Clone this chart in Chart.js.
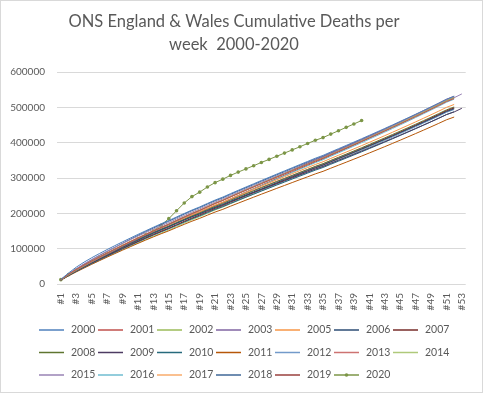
<!DOCTYPE html>
<html>
<head>
<meta charset="utf-8">
<script src="https://cdn.jsdelivr.net/npm/chart.js@4.4.1/dist/chart.umd.min.js"></script>
<style>
  body { margin: 0; background: #fff; }
  canvas { display: block; }
</style>
</head>
<body>
<canvas id="myChart" width="483" height="393"></canvas>
<script>
const weekLabels = ["#1","#2","#3","#4","#5","#6","#7","#8","#9","#10","#11","#12","#13","#14","#15","#16","#17","#18","#19","#20","#21","#22","#23","#24","#25","#26","#27","#28","#29","#30","#31","#32","#33","#34","#35","#36","#37","#38","#39","#40","#41","#42","#43","#44","#45","#46","#47","#48","#49","#50","#51","#52","#53"];

const years = ["2000","2001","2002","2003","2005","2006","2007","2008","2009","2010","2011","2012","2013","2014","2015","2016","2017","2018","2019","2020"];

const yearColors = ["#4f81bd","#c0504d","#9bbb59","#8064a2","#f79646","#2c4d75","#772c2a","#5f7530","#4d3b62","#276a7c","#b65708","#729aca","#cd7371","#afc97a","#9983b5","#6fbdd1","#f9ab6b","#3f6797","#9a403e","#7c9647"];

// weekly deaths registered, thousands
const w2000 = [13.2,17.9,16.5,14.1,12.6,11.8,11.4,11.0,10.8,10.6,10.4,10.2,10.1,9.8,9.2,10.1,9.9,9.6,8.9,9.8,9.6,8.5,9.7,9.4,9.3,9.2,9.2,9.1,9.1,9.0,9.0,9.0,8.9,9.0,8.1,9.6,9.3,9.3,9.4,9.5,9.6,9.7,9.8,9.9,10.0,10.1,10.2,10.3,10.4,10.6,10.9,8.6];
const w2001 = [12.4,15.2,13.6,12.5,11.8,11.3,11.0,10.8,10.7,10.5,10.4,10.2,10.1,9.6,9.4,10.2,10.0,9.7,9.0,9.9,9.7,8.6,9.8,9.5,9.4,9.3,9.3,9.2,9.2,9.1,9.1,9.1,9.0,9.1,8.2,9.7,9.4,9.4,9.5,9.6,9.7,9.8,9.9,10.0,10.1,10.2,10.3,10.4,10.5,10.7,11.0,8.7];
const w2002 = [12.0,14.6,13.5,12.6,12.1,11.6,11.2,11.0,10.8,10.6,10.4,10.3,10.0,9.7,9.3,10.3,10.0,9.8,9.0,9.9,9.8,8.6,9.9,9.5,9.5,9.3,9.4,9.2,9.3,9.1,9.2,9.1,9.1,9.1,8.3,9.8,9.4,9.5,9.5,9.7,9.7,9.9,9.9,10.1,10.1,10.3,10.3,10.5,10.5,10.8,11.0,8.8];
const w2003 = [11.8,14.4,13.2,12.3,11.7,11.3,11.1,10.9,10.8,10.6,10.5,10.3,10.2,9.8,9.5,10.4,10.1,9.9,9.1,10.0,9.9,8.7,10.0,9.6,9.6,9.4,9.5,9.3,9.4,9.2,9.3,10.2,10.6,9.2,8.4,9.9,9.5,9.6,9.6,9.8,9.8,10.0,10.0,10.2,10.2,10.4,10.4,10.6,10.6,10.9,11.1,8.9];
const w2005 = [11.9,13.9,12.8,12.0,11.6,11.4,11.3,11.2,11.1,10.9,10.6,10.3,10.0,9.5,9.1,9.8,9.6,9.3,8.6,9.5,9.3,8.2,9.4,9.1,9.0,8.9,8.9,8.8,8.8,8.7,8.7,8.7,8.6,8.7,7.8,9.3,9.0,9.0,9.1,9.2,9.3,9.4,9.5,9.6,9.7,9.8,9.9,10.0,10.1,10.3,10.6,8.3];
const w2006 = [11.3,13.4,12.4,11.7,11.3,11.0,10.9,10.8,10.6,10.4,10.2,10.0,9.8,9.4,8.9,9.6,9.4,9.1,8.4,9.3,9.1,8.0,9.2,8.9,8.8,8.7,8.7,8.6,9.0,8.9,8.5,8.5,8.4,8.5,7.6,9.1,8.8,8.8,8.9,9.0,9.1,9.2,9.3,9.4,9.5,9.6,9.7,9.8,9.9,10.1,10.4,8.1];
const w2007 = [11.6,13.6,12.2,11.3,10.9,10.6,10.4,10.3,10.2,10.0,9.8,9.7,9.5,9.2,8.8,9.7,9.7,9.2,8.7,9.4,9.4,8.1,9.5,9.0,9.1,8.8,9.0,8.7,8.9,8.6,8.8,8.6,8.7,8.6,7.9,9.2,9.1,8.9,9.2,9.1,9.4,9.3,9.6,9.5,9.8,9.7,10.0,9.9,10.2,10.2,10.7,8.2];
const w2008 = [11.9,14.1,12.9,11.9,11.4,11.0,10.8,10.6,10.5,10.3,10.2,10.1,9.9,9.5,9.0,9.7,9.5,9.2,8.5,9.4,9.2,8.1,9.3,9.0,8.9,8.8,8.8,8.7,8.7,8.6,8.6,8.6,8.5,8.6,7.7,9.2,8.9,8.9,9.0,9.1,9.2,9.3,9.4,9.5,9.6,9.7,9.8,9.9,10.0,10.2,10.5,8.2];
const w2009 = [11.7,14.3,13.4,12.5,11.9,11.5,11.0,10.6,10.3,10.0,9.7,9.5,9.3,9.0,8.5,9.3,9.2,8.8,8.2,9.1,8.8,7.8,8.9,8.7,8.5,8.5,8.4,8.4,8.3,8.3,8.2,8.3,8.1,8.3,7.3,8.9,8.5,8.6,8.6,8.8,8.8,9.0,9.0,9.2,9.2,9.4,9.4,9.6,9.6,9.9,10.2,7.6,10.4];
const w2010 = [11.1,12.9,11.9,11.2,10.9,10.6,10.5,10.3,10.2,10.0,9.8,9.7,9.5,9.1,8.7,9.5,9.4,9.0,8.4,9.2,9.1,7.9,9.2,8.8,8.8,8.6,8.7,8.5,8.6,8.4,8.5,8.4,8.4,8.4,7.6,9.0,8.8,8.7,8.9,8.9,9.1,9.1,9.3,9.3,9.5,9.5,9.7,9.7,9.9,10.0,10.4,8.0];
const w2011 = [10.4,12.5,11.4,10.8,10.6,10.3,10.1,9.9,9.8,9.7,9.5,9.3,9.1,8.8,8.3,9.3,9.1,8.8,8.1,9.0,8.8,7.7,8.9,8.6,8.5,8.4,8.4,8.3,8.3,8.2,8.2,8.2,8.1,8.2,7.3,8.8,8.5,8.5,8.6,8.7,8.8,8.9,9.0,9.1,9.2,9.3,9.4,9.5,9.6,9.8,10.1,7.8];
const w2012 = [11.0,12.7,11.6,10.9,10.6,10.4,10.4,10.5,10.6,10.4,10.1,9.8,9.6,9.3,8.9,9.8,9.4,9.3,8.4,9.5,9.1,7.9,9.0,9.1,8.8,8.9,8.7,8.8,8.6,8.7,8.5,8.7,8.4,8.7,7.7,9.3,8.9,9.0,9.0,9.2,9.2,9.4,9.4,9.6,9.6,9.8,9.8,10.0,10.0,10.2,10.5,8.0];
const w2013 = [11.6,13.8,12.6,12.0,11.5,11.2,11.0,10.9,10.9,10.8,10.7,10.6,10.5,10.0,9.5,9.5,9.3,9.0,8.3,9.2,9.0,7.9,9.1,8.8,8.7,8.6,8.6,8.5,8.5,8.4,8.4,8.4,8.3,8.4,7.5,9.0,8.7,8.7,8.8,8.9,9.0,9.1,9.2,9.3,9.4,9.5,9.6,9.7,9.8,10.0,10.3,8.0];
const w2014 = [11.4,13.1,11.6,10.8,10.5,10.2,10.0,9.9,9.8,9.6,9.5,9.4,9.3,9.0,8.6,9.9,9.7,9.4,8.7,9.6,9.4,8.3,9.5,9.2,9.1,9.0,9.0,8.9,8.9,8.8,8.8,8.8,8.7,8.8,7.9,9.4,9.1,9.1,9.2,9.3,9.4,9.5,9.6,9.7,9.8,9.9,10.0,10.1,10.2,10.4,10.7,8.4];
const w2015 = [12.1,16.2,14.9,13.6,12.6,12.0,11.5,11.1,10.8,10.5,10.2,10.0,9.8,9.5,9.0,10.1,10.0,9.6,9.0,9.8,9.7,8.5,9.8,9.4,9.4,9.2,9.3,9.1,9.2,9.0,9.1,9.0,9.0,9.0,8.2,9.6,9.4,9.3,9.5,9.5,9.7,9.7,9.9,9.9,10.1,10.1,10.3,10.3,10.5,10.6,11.0,8.6,10.8];
const w2016 = [11.6,13.4,12.0,11.3,11.1,10.9,10.7,10.6,10.6,10.5,10.3,10.2,10.0,9.7,9.3,10.3,10.2,9.8,9.2,10.1,9.8,8.8,9.9,9.7,9.5,9.5,9.4,9.4,9.3,9.3,9.2,9.3,9.1,9.3,8.3,9.9,9.6,9.5,9.7,9.7,9.9,9.9,10.1,10.1,10.3,10.3,10.5,10.5,10.7,10.8,11.2,8.8];
const w2017 = [12.3,15.0,13.8,12.6,12.0,11.6,11.3,11.0,10.7,10.4,10.2,10.0,9.8,9.5,9.0,10.5,10.0,9.9,9.0,10.1,9.9,8.6,10.0,9.7,9.6,9.4,9.4,9.4,9.3,9.2,9.3,9.2,9.2,9.2,8.4,9.8,9.6,9.6,9.6,9.8,9.9,10.0,10.0,10.2,10.2,10.4,10.5,10.6,10.6,10.9,11.2,8.8];
const w2018 = [12.8,15.5,14.2,13.2,12.6,12.2,11.7,11.4,11.6,11.3,11.0,10.7,10.3,9.8,9.4,9.9,10.2,9.7,8.7,9.9,9.5,8.3,9.8,9.5,9.2,9.1,9.3,9.2,9.0,8.9,9.1,8.9,9.0,8.8,8.0,9.7,9.4,9.2,9.5,9.4,9.7,9.6,9.9,9.8,10.1,10.0,10.3,10.2,10.5,10.7,11.0,8.4];
const w2019 = [12.0,13.6,12.2,11.5,11.1,10.9,10.7,10.6,10.4,10.2,10.0,9.9,9.8,9.5,9.1,10.5,10.3,10.0,9.3,10.2,10.0,8.9,10.1,9.8,9.7,9.6,9.6,9.5,9.5,9.4,9.4,9.4,9.3,9.4,8.5,10.0,9.7,9.7,9.8,9.9,10.0,10.1,10.2,10.3,10.4,10.5,10.6,10.7,10.8,11.0,11.3,9.0];
const w2020 = [12.3,14.1,13.0,11.9,11.6,11.0,10.9,10.8,10.8,11.0,10.6,10.9,11.1,16.4,18.5,22.4,22.0,18.0,12.7,14.6,12.3,9.8,10.7,9.3,9.1,9.0,9.2,8.7,8.9,8.9,9.0,8.9,9.4,8.9,7.7,9.8,9.5,9.6,9.6,9.8];

const weekly = [w2000,w2001,w2002,w2003,w2005,w2006,w2007,w2008,w2009,w2010,w2011,w2012,w2013,w2014,w2015,w2016,w2017,w2018,w2019,w2020];

const textColor = "#595959";
const font = "Lato, 'Open Sans', sans-serif";

function cumulative(list) {
  let total = 0;
  return list.map((v) => {
    total += v * 1000;
    return Math.round(total);
  });
}

const datasets = years.map((year, i) => {
  const is2020 = year === "2020";
  return {
    label: year,
    data: cumulative(weekly[i]),
    borderColor: yearColors[i],
    backgroundColor: yearColors[i],
    borderWidth: 1,
    pointRadius: is2020 ? 1.8 : 0,
    pointBorderWidth: 0,
    fill: false,
    tension: 0,
  };
});

// light frame round the chart, like the spreadsheet chart area
const framePlugin = {
  id: "frame",
  beforeDraw(chart) {
    const c = chart.ctx;
    c.save();
    c.fillStyle = "#fff";
    c.fillRect(0, 0, chart.width, chart.height);
    c.strokeStyle = "#d9d9d9";
    c.lineWidth = 1;
    c.strokeRect(0.5, 0.5, chart.width - 1, chart.height - 1);
    c.restore();
  },
};

// legend in 7 fixed columns, rows left aligned
const legendPlugin = {
  id: "sheetLegend",
  afterDraw(chart) {
    const c = chart.ctx;
    c.save();
    c.font = "10.5px " + font;
    c.textBaseline = "middle";
    c.textAlign = "left";
    chart.data.datasets.forEach((ds, i) => {
      const x = 39 + (i % 7) * 59;
      const y = 330 + Math.floor(i / 7) * 22.5;
      c.strokeStyle = ds.borderColor;
      c.lineWidth = 1.5;
      c.beginPath();
      c.moveTo(x, y);
      c.lineTo(x + 25, y);
      c.stroke();
      if (ds.pointRadius) {
        c.fillStyle = ds.borderColor;
        c.beginPath();
        c.arc(x + 12.5, y, 1.8, 0, Math.PI * 2);
        c.fill();
      }
      c.fillStyle = textColor;
      c.fillText(ds.label, x + 32, y);
    });
    c.restore();
  },
};

const ctx = document.getElementById("myChart");
new Chart(ctx, {
  type: "line",
  data: { labels: weekLabels, datasets: datasets },
  options: {
    responsive: false,
    animation: false,
    layout: { padding: { left: 0, right: 15, top: 0, bottom: 79 } },
    plugins: {
      legend: { display: false },
      tooltip: { enabled: false },
      title: {
        display: true,
        text: ["ONS England & Wales Cumulative Deaths per", "week  2000-2020"],
        color: textColor,
        font: { family: font, size: 16.5, weight: "normal", lineHeight: "23px" },
        padding: { top: 10.5, bottom: 15.5 },
      },
    },
    scales: {
      x: {
        offset: true,
        grid: { display: false, drawTicks: false },
        border: { display: false },
        ticks: {
          autoSkip: false,
          minRotation: 90,
          maxRotation: 90,
          padding: 9,
          color: textColor,
          font: { family: font, size: 10 },
          callback: (v, i) => (i % 2 === 0 ? weekLabels[i] : ""),
        },
        afterFit: (scale) => {
          scale.height = 30;
        },
      },
      y: {
        min: 0,
        max: 600000,
        grid: { color: "#d9d9d9", drawTicks: false },
        border: { display: false },
        ticks: {
          stepSize: 100000,
          padding: 12,
          color: textColor,
          font: { family: font, size: 10 },
          callback: (v) => String(v),
        },
        afterFit: (scale) => {
          scale.width = 57;
        },
      },
    },
  },
  plugins: [framePlugin, legendPlugin],
});
</script>
</body>
</html>
